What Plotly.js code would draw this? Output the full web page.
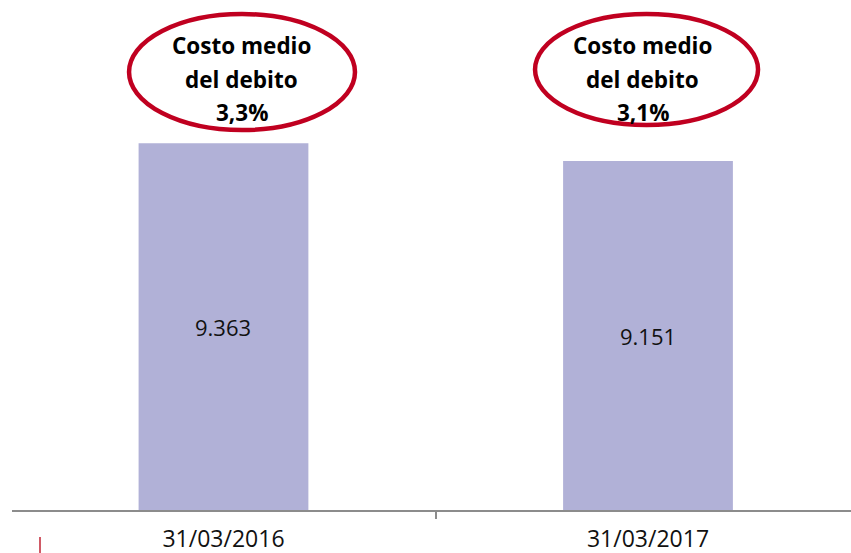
<!DOCTYPE html>
<html>
<head>
<meta charset="utf-8">
<script src="https://cdn.plot.ly/plotly-3.0.1.min.js"></script>
<style>html,body{margin:0;padding:0;background:#fff;}#chart{width:851px;height:553px;}</style>
</head>
<body>
<div id="chart"></div>
<script>
// Data
var categories = ['31/03/2016', '31/03/2017'];
var debtValues = [9363, 9151];
var costTitleLine1 = 'Costo medio';
var costTitleLine2 = 'del debito';
var costRates = ['3,3%', '3,1%'];

var barColor = '#B1B1D7';
var ringColor = '#C00020';
var yMin = 4971, yMax = 11080;

var trace = {
  type: 'bar',
  x: categories,
  y: debtValues,
  width: 0.4,
  marker: {color: barColor, line: {width: 0}},
  textposition: 'none',
  hoverinfo: 'none'
};

// ellipse geometry in paper coords (decoration)
var rings = [
  {x0: 0.1395, x1: 0.4088, y0: 0.745, y1: 0.9725, cx: 0.2737},
  {x0: 0.6234, x1: 0.8892, y0: 0.7549, y1: 0.9725, cx: 0.7515}
];
var lineY = [0.9100, 0.8433, 0.7786];

var shapes = rings.map(function(r){
  return {type: 'circle', xref: 'paper', yref: 'paper', x0: r.x0, x1: r.x1, y0: r.y0, y1: r.y1,
          line: {color: ringColor, width: 4.5}, fillcolor: 'rgba(0,0,0,0)'};
});
shapes.push({type: 'line', xref: 'paper', yref: 'paper', x0: 0.0334, x1: 0.0334, y0: -0.0529, y1: -0.0843,
             line: {color: '#D05A66', width: 2}});

var annotations = [];
rings.forEach(function(r, i){
  var texts = [costTitleLine1, costTitleLine2, costRates[i]];
  texts.forEach(function(t, j){
    annotations.push({
      xref: 'paper', yref: 'paper', x: r.cx, y: lineY[j],
      xanchor: 'center', yanchor: 'middle', showarrow: false,
      text: '<b>' + t + '</b>',
      font: {family: 'Open Sans, sans-serif', size: 22.5, color: '#000'}
    });
  });
});

// value labels centred in the visible part of each bar
var fmt = function(v){ return String(v).replace(/\B(?=(\d{3})+(?!\d))/g, '.'); };
categories.forEach(function(c, i){
  annotations.push({
    xref: 'x', yref: 'y', x: c, y: (debtValues[i] + yMin) / 2,
    xanchor: 'center', yanchor: 'middle', showarrow: false,
    text: fmt(debtValues[i]),
    font: {family: 'Open Sans, sans-serif', size: 22, color: '#111'}
  });
});

var layout = {
  width: 851, height: 553,
  margin: {l: 12, r: 0, t: 0, b: 43, pad: 0},
  paper_bgcolor: '#fff', plot_bgcolor: '#fff',
  showlegend: false,
  xaxis: {
    type: 'category',
    range: [-0.4982, 1.4782],
    showline: true, linecolor: '#8C8C8C', linewidth: 2,
    ticks: 'outside', tickson: 'boundaries', ticklen: 7, tickwidth: 2, tickcolor: '#8C8C8C',
    ticklabelstandoff: 7,
    showgrid: false, zeroline: false,
    tickfont: {family: 'Open Sans, sans-serif', size: 23, color: '#111'}
  },
  yaxis: {
    visible: false,
    range: [yMin, yMax],
    showgrid: false, zeroline: false
  },
  shapes: shapes,
  annotations: annotations
};

Plotly.newPlot('chart', [trace], layout, {displayModeBar: false, staticPlot: true});
</script>
</body>
</html>
